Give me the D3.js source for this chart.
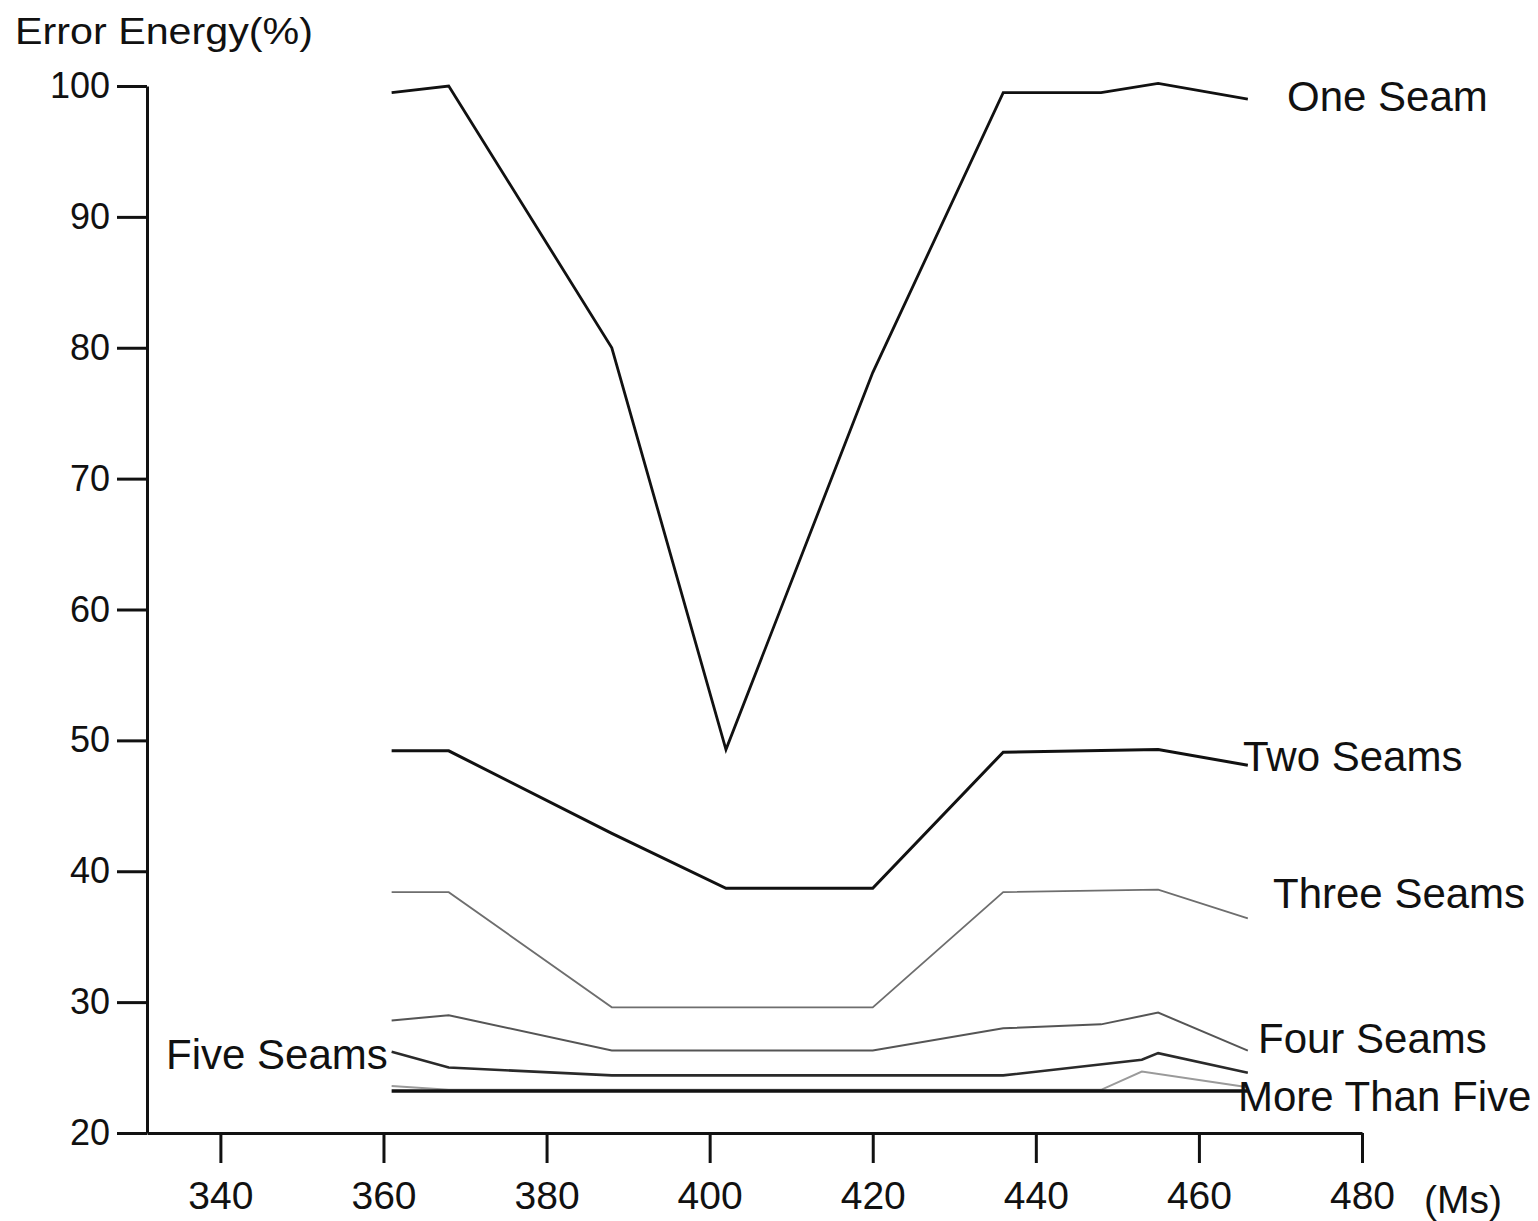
<!DOCTYPE html>
<html>
<head>
<meta charset="utf-8">
<script src="https://cdn.jsdelivr.net/npm/d3@7"></script>
<style>
  html, body { margin: 0; padding: 0; background: #fff; }
  svg text { font-family: "Liberation Sans", Arial, Helvetica, sans-serif; fill: #111; }
</style>
</head>
<body>
<svg id="chart" width="1538" height="1221"></svg>
<script>
// ---- data ----
const xTicks = [340, 360, 380, 400, 420, 440, 460, 480];
const yTicks = [20, 30, 40, 50, 60, 70, 80, 90, 100];

const oneSeamX = [361, 368, 388, 402, 420, 436, 448, 455, 466];
const oneSeamY = [99.5, 100, 80, 49.3, 78.1, 99.5, 99.5, 100.2, 99.0];

const twoSeamsX = [361, 368, 388, 402, 420, 436, 455, 466];
const twoSeamsY = [49.2, 49.2, 42.9, 38.7, 38.7, 49.1, 49.3, 48.1];

const threeSeamsX = [361, 368, 388, 420, 436, 455, 466];
const threeSeamsY = [38.4, 38.4, 29.6, 29.6, 38.4, 38.6, 36.4];

const fourSeamsX = [361, 368, 388, 420, 436, 448, 455, 466];
const fourSeamsY = [28.6, 29.0, 26.3, 26.3, 28.0, 28.3, 29.2, 26.3];

const fiveSeamsX = [361, 368, 388, 436, 453, 455, 466];
const fiveSeamsY = [26.2, 25.0, 24.4, 24.4, 25.6, 26.1, 24.6];

const moreThanFiveX = [361, 466];
const moreThanFiveY = [23.2, 23.2];

const moreThanFiveBX = [361, 368, 448, 453, 466];
const moreThanFiveBY = [23.6, 23.3, 23.3, 24.7, 23.5];

const seriesNames = ["One Seam", "Two Seams", "Three Seams", "Four Seams", "Five Seams", "More Than Five"];

// ---- drawing ----
const svg = d3.select("#chart");
const x = d3.scaleLinear().domain([331, 480]).range([147, 1362]);
const y = d3.scaleLinear().domain([20, 100]).range([1133, 86]);

const zip = (xs, ys) => xs.map((v, i) => [v, ys[i]]);
const line = d3.line().x(d => x(d[0])).y(d => y(d[1]));

const series = [
  { data: zip(moreThanFiveBX, moreThanFiveBY), color: "#9a9a9a", width: 2 },
  { data: zip(threeSeamsX, threeSeamsY), color: "#6e6e6e", width: 1.8 },
  { data: zip(fourSeamsX, fourSeamsY), color: "#555", width: 2 },
  { data: zip(fiveSeamsX, fiveSeamsY), color: "#2a2a2a", width: 2.6 },
  { data: zip(moreThanFiveX, moreThanFiveY), color: "#111", width: 3.5 },
  { data: zip(twoSeamsX, twoSeamsY), color: "#111", width: 3 },
  { data: zip(oneSeamX, oneSeamY), color: "#111", width: 2.8 }
];

svg.append("g").selectAll("path").data(series).join("path")
  .attr("d", d => line(d.data))
  .attr("fill", "none")
  .attr("stroke", d => d.color)
  .attr("stroke-width", d => d.width)
  .attr("stroke-linejoin", "miter");

// axes
const xAxis = svg.append("g").attr("transform", `translate(0,${y(20)})`)
  .call(d3.axisBottom(x).tickValues(xTicks).tickSize(30).tickSizeOuter(0).tickPadding(18));
const yAxis = svg.append("g").attr("transform", `translate(${x(331)},0)`)
  .call(d3.axisLeft(y).tickValues(yTicks).tickSize(30).tickSizeOuter(0).tickPadding(7));

[xAxis, yAxis].forEach(a => {
  a.selectAll("path, line").attr("stroke", "#111").attr("stroke-width", 3);
  a.selectAll("text").attr("fill", "#111")
    .style("font-family", '"Liberation Sans", Arial, sans-serif');
});
xAxis.selectAll("text").style("font-size", "39px");
yAxis.selectAll("text").style("font-size", "36px");

// axis titles
svg.append("text").attr("x", 15).attr("y", 44)
  .attr("textLength", 298).attr("lengthAdjust", "spacingAndGlyphs")
  .style("font-size", "36px").text("Error Energy(%)");
svg.append("text").attr("x", 1424).attr("y", 1213)
  .style("font-size", "39px").text("(Ms)");

// series labels
const labelPos = [
  [1287, 111], [1243, 771], [1273, 908], [1258, 1053], [166, 1069], [1238, 1111]
];
svg.append("g").selectAll("text").data(seriesNames).join("text")
  .attr("x", (d, i) => labelPos[i][0])
  .attr("y", (d, i) => labelPos[i][1])
  .style("font-size", "42px")
  .text(d => d);
</script>
</body>
</html>
